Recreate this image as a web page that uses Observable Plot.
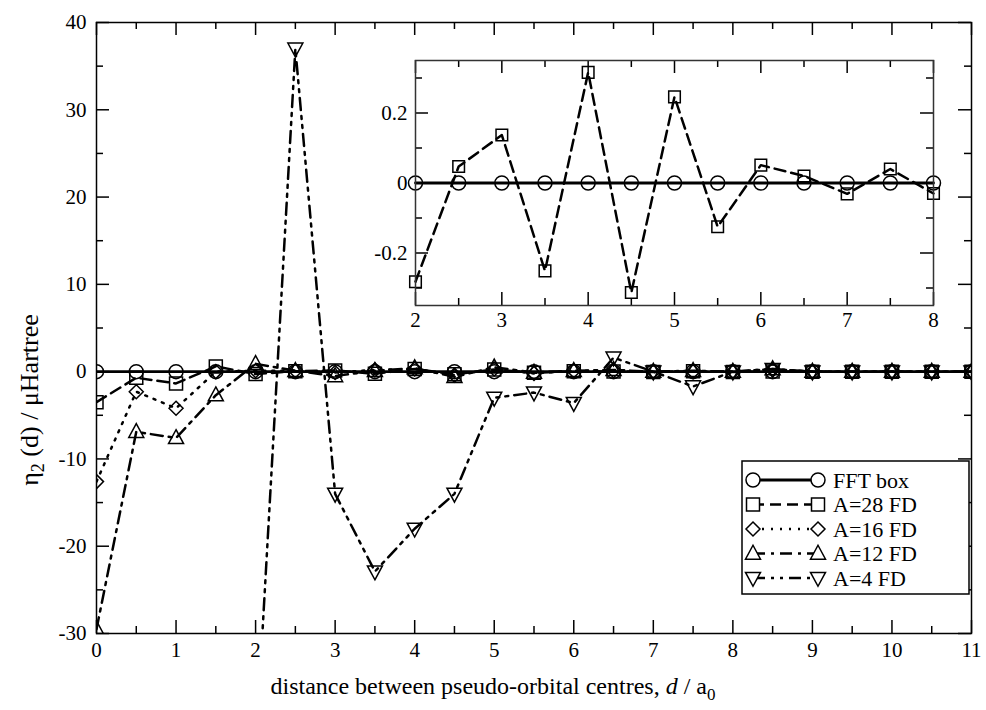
<!DOCTYPE html>
<html><head><meta charset="utf-8">
<script src="https://cdn.jsdelivr.net/npm/d3@7"></script>
<script src="https://cdn.jsdelivr.net/npm/@observablehq/plot@0.6"></script>
<style>
body{margin:0;background:#fff;}
#wrap{position:relative;width:986px;height:710px;font-family:'Liberation Serif','Times New Roman',Times,'Nimbus Roman','DejaVu Serif',serif;}
#wrap svg{position:absolute;overflow:visible;}
#wrap svg text{font-family:'Liberation Serif','Times New Roman',Times,'Nimbus Roman','DejaVu Serif',serif !important;}
</style></head><body><div id="wrap"></div>
<script>
// ---------- data ----------
const distance = [0,0.5,1,1.5,2,2.5,3,3.5,4,4.5,5,5.5,6,6.5,7,7.5,8,8.5,9,9.5,10,10.5,11];
const fftBox   = [0,0,0,0,0,0,0,0,0,0,0,0,0,0,0,0,0,0,0,0,0,0,0];
const a28      = [-3.5,-0.7,-1.35,0.6,-0.28,0.047,0.137,-0.251,0.316,-0.313,0.246,-0.125,0.051,0.02,-0.031,0.04,-0.03,0.02,0.0,0.0,0.0,0.0,0.0];
const a16      = [-12.6,-2.3,-4.2,0.0,0.1,0.1,-0.1,0.2,0.3,-0.4,0.3,-0.2,0.1,0.1,0.0,0.0,0.0,0.2,0.0,0.0,0.0,0.0,0.0];
const a12      = [-29.5,-6.9,-7.6,-2.7,0.9,0.1,-0.5,0.1,0.4,-0.6,0.5,-0.1,0.1,0.2,0.0,0.1,0.0,0.3,0.0,0.0,0.0,0.0,0.0];
const a4       = [null,null,null,null,-43.8,37.0,-14.0,-22.9,-18.0,-14.0,-3.0,-2.4,-3.6,1.6,0.0,-1.7,0.0,0.3,0.0,0.0,0.0,0.0,0.0];
const seriesNames = ["FFT box","A=28 FD","A=16 FD","A=12 FD","A=4 FD"];
const seriesValues = [fftBox, a28, a16, a12, a4];

const xMajorTicks = [0,1,2,3,4,5,6,7,8,9,10,11];
const xMinorTicks = [0.5,1.5,2.5,3.5,4.5,5.5,6.5,7.5,8.5,9.5,10.5];
const yMajorTicks = [-30,-20,-10,0,10,20,30,40];
const yMinorTicks = [-25,-15,-5,5,15,25,35];

const insetX = [2,2.5,3,3.5,4,4.5,5,5.5,6,6.5,7,7.5,8];
const insetFFT = [0,0,0,0,0,0,0,0,0,0,0,0,0];
const insetA28 = [-0.282,0.047,0.137,-0.251,0.316,-0.313,0.246,-0.125,0.051,0.02,-0.031,0.04,-0.03];
const insetXMajor = [2,3,4,5,6,7,8];
const insetXMinor = [2.5,3.5,4.5,5.5,6.5,7.5];
const insetYMajor = [-0.2,0,0.2];
const insetYMinor = [-0.3,-0.1,0.1,0.3];

// ---------- styles ----------
function mk(pts){return {draw(ctx,size){const r=Math.sqrt(size/Math.PI);pts.forEach((p,i)=>i?ctx.lineTo(p[0]*r,p[1]*r):ctx.moveTo(p[0]*r,p[1]*r));ctx.closePath();}};}
const symCircle = {draw(ctx,size){const r=Math.sqrt(size/Math.PI);ctx.moveTo(r,0);ctx.arc(0,0,r,0,2*Math.PI);}};
const symSquare = mk([[-1,-1],[1,-1],[1,1],[-1,1]]);
const symDiamond = mk([[0,-1],[1,0],[0,1],[-1,0]]);
const symUp = mk([[0,-1.1],[1,0.75],[-1,0.75]]);
const symDown = mk([[0,1.1],[1,-0.75],[-1,-0.75]]);
const styles = [
  {sym:symCircle, r:7, dash:null, w:2.8},
  {sym:symSquare, r:6.5, dash:"11,6", w:2.5},
  {sym:symDiamond, r:7, dash:"2,7", w:2.5},
  {sym:symUp, r:7.5, dash:"12,6,3,6", w:2.5},
  {sym:symDown, r:7.5, dash:"12,6,3,6,3,6", w:2.5}
];

const rows = [];
seriesNames.forEach((name,s)=>distance.forEach((d,i)=>{const v=seriesValues[s][i]; if(v!=null) rows.push({series:name,s,d,v});}));

const font = "'Liberation Serif','Times New Roman',Times,'Nimbus Roman','DejaVu Serif',serif";
const W = 986, H = 710, mL = 96, mR = 15, mT = 22, mB = 77;
const FW = W-mL-mR, FH = H-mT-mB;

const seriesMarks = [];
seriesNames.forEach((name,s)=>{
  const data = rows.filter(r=>r.s===s);
  const st = styles[s];
  seriesMarks.push(Plot.line(data,{x:"d",y:"v",stroke:"black",strokeWidth:st.w,strokeDasharray:st.dash,clip:true}));
  seriesMarks.push(Plot.dot(data,{x:"d",y:"v",symbol:()=>st.sym,r:st.r,stroke:"black",strokeWidth:1.5,fill:"none",clip:true}));
});

const main = Plot.plot({
  width:W, height:H, marginLeft:mL, marginRight:mR, marginTop:mT, marginBottom:mB,
  style:{fontFamily:font, fontSize:"21px", color:"black", background:"transparent", overflow:"visible"},
  x:{domain:[0,11]}, y:{domain:[-30,40]},
  marks:[
    Plot.axisX({ticks:xMajorTicks, tickSize:0, tickPadding:9, label:null, fontSize:21, tickFormat:d=>String(d)}),
    Plot.axisY({ticks:yMajorTicks, tickSize:0, tickPadding:10, label:null, fontSize:21, tickFormat:d=>String(d)}),
    Plot.tickX(xMajorTicks,{x:d=>d, insetTop:FH-13, strokeWidth:1.5}),
    Plot.tickX(xMajorTicks,{x:d=>d, insetBottom:FH-13, strokeWidth:1.5}),
    Plot.tickX(xMinorTicks,{x:d=>d, insetTop:FH-7, strokeWidth:1.5}),
    Plot.tickX(xMinorTicks,{x:d=>d, insetBottom:FH-7, strokeWidth:1.5}),
    Plot.tickY(yMajorTicks,{y:d=>d, insetRight:FW-13, strokeWidth:1.5}),
    Plot.tickY(yMajorTicks,{y:d=>d, insetLeft:FW-13, strokeWidth:1.5}),
    Plot.tickY(yMinorTicks,{y:d=>d, insetRight:FW-7, strokeWidth:1.5}),
    Plot.tickY(yMinorTicks,{y:d=>d, insetLeft:FW-7, strokeWidth:1.5}),
    ...seriesMarks,
    Plot.frame({stroke:"black", strokeWidth:1.5})
  ]
});
main.style.left="0px"; main.style.top="0px";
document.getElementById("wrap").appendChild(main);

// axis titles
const svg = d3.select(main);
const xt = svg.append("text").attr("x",493).attr("y",694).attr("text-anchor","middle")
  .style("font-size","24px").attr("fill","black");
xt.append("tspan").text("distance between pseudo-orbital centres, ");
xt.append("tspan").attr("font-style","italic").text("d");
xt.append("tspan").text(" / a");
xt.append("tspan").attr("font-size","17px").attr("dy","6").text("0");

const yt = svg.append("text").attr("transform","translate(38,400) rotate(-90)").attr("text-anchor","middle")
  .style("font-size","26px").attr("fill","black");
yt.append("tspan").text("η");
yt.append("tspan").attr("font-size","18px").attr("dy","6").text("2");
yt.append("tspan").attr("dy","-6").text(" (d) / μHartree");

// legend
const lg = svg.append("g");
lg.append("rect").attr("x",742).attr("y",461).attr("width",227).attr("height",133)
  .attr("fill","white").attr("stroke","black").attr("stroke-width",1.5);
seriesNames.forEach((name,s)=>{
  const y = 480 + s*24.5, st = styles[s];
  lg.append("line").attr("x1",753).attr("x2",818).attr("y1",y).attr("y2",y)
    .attr("stroke","black").attr("stroke-width",st.w).attr("stroke-dasharray",st.dash);
  [753,818].forEach(x=>{
    lg.append("path").attr("d",d3.symbol(st.sym, st.r*st.r*Math.PI)()).attr("transform",`translate(${x},${y})`)
      .attr("fill","white").attr("stroke","black").attr("stroke-width",1.5);
  });
  lg.append("text").attr("x",833).attr("y",y).attr("dy","0.35em").attr("text-anchor","start")
    .style("font-size","22px").attr("fill","black").text(name);
});

// ---------- inset ----------
const iW=600, iH=300, iL=60, iR=22, iT=20, iB=35;
const iFW=iW-iL-iR, iFH=iH-iT-iB;
const insetRows = [];
insetX.forEach((d,i)=>{insetRows.push({s:0,d,v:insetFFT[i]}); insetRows.push({s:1,d,v:insetA28[i]});});
const insetMarks = [];
[0,1].forEach(s=>{
  const data = insetRows.filter(r=>r.s===s), st = styles[s];
  insetMarks.push(Plot.line(data,{x:"d",y:"v",stroke:"black",strokeWidth:st.w,strokeDasharray:st.dash}));
  insetMarks.push(Plot.dot(data,{x:"d",y:"v",symbol:()=>st.sym,r:s===0?7:5.8,stroke:"black",strokeWidth:1.5,fill:"none"}));
});
const inset = Plot.plot({
  width:iW, height:iH, marginLeft:iL, marginRight:iR, marginTop:iT, marginBottom:iB,
  style:{fontFamily:font, fontSize:"21px", color:"black", background:"transparent", overflow:"visible"},
  x:{domain:[2,8]}, y:{domain:[-0.35,0.35]},
  marks:[
    Plot.frame({fill:"white"}),
    Plot.axisX({ticks:insetXMajor, tickSize:0, tickPadding:7, label:null, fontSize:21, tickFormat:d=>String(d)}),
    Plot.axisY({ticks:insetYMajor, tickSize:0, tickPadding:8, label:null, fontSize:21, tickFormat:d=>String(d)}),
    Plot.tickX(insetXMajor,{x:d=>d, insetTop:iFH-13, strokeWidth:1.5}),
    Plot.tickX(insetXMajor,{x:d=>d, insetBottom:iFH-13, strokeWidth:1.5}),
    Plot.tickX(insetXMinor,{x:d=>d, insetTop:iFH-7, strokeWidth:1.5}),
    Plot.tickX(insetXMinor,{x:d=>d, insetBottom:iFH-7, strokeWidth:1.5}),
    Plot.tickY(insetYMajor,{y:d=>d, insetRight:iFW-13, strokeWidth:1.5}),
    Plot.tickY(insetYMajor,{y:d=>d, insetLeft:iFW-13, strokeWidth:1.5}),
    Plot.tickY(insetYMinor,{y:d=>d, insetRight:iFW-7, strokeWidth:1.5}),
    Plot.tickY(insetYMinor,{y:d=>d, insetLeft:iFW-7, strokeWidth:1.5}),
    ...insetMarks,
    Plot.frame({stroke:"#333", strokeWidth:1.5})
  ]
});
inset.style.left="355px"; inset.style.top="40px";
document.getElementById("wrap").appendChild(inset);
</script></body></html>
